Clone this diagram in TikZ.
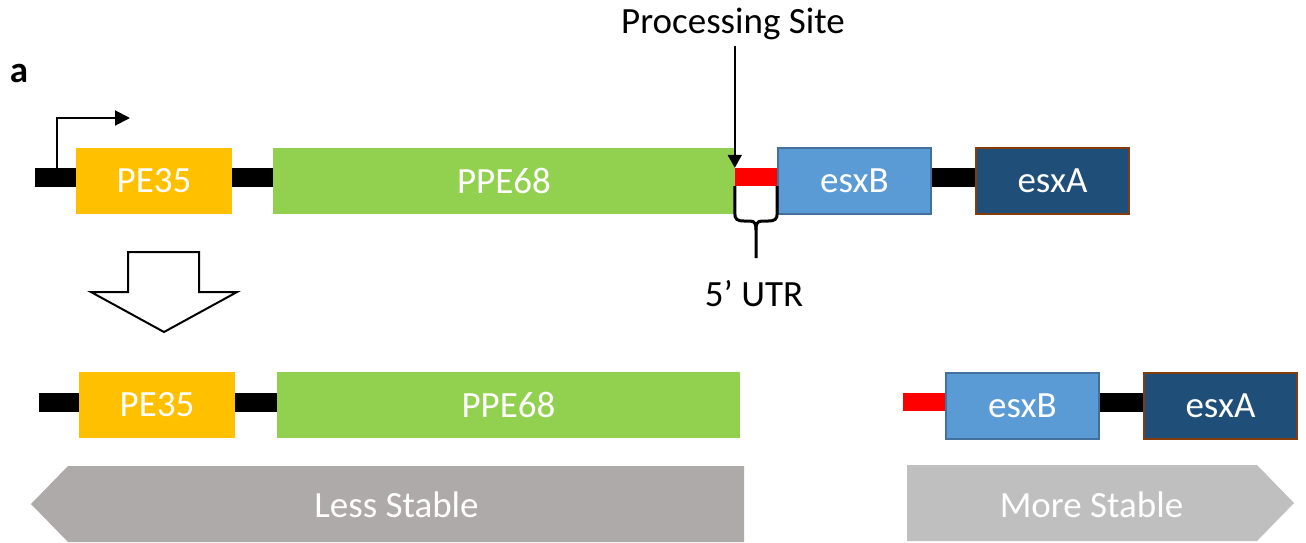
\documentclass[tikz,border=0pt]{standalone}
\usepackage{fontspec}
\setmainfont{Carlito}
\usetikzlibrary{arrows.meta,calc}
\definecolor{peY}{HTML}{FFC000}
\definecolor{ppeG}{HTML}{92D050}
\definecolor{esxBc}{HTML}{5B9BD5}
\definecolor{esxBe}{HTML}{41719C}
\definecolor{esxAc}{HTML}{1F4E79}
\definecolor{esxAe}{HTML}{843C0C}
\definecolor{lessG}{HTML}{AEAAAA}
\definecolor{moreG}{HTML}{BFBFBF}
\definecolor{utrR}{HTML}{FF0000}
\begin{document}
\begin{tikzpicture}[x=1pt,y=-1pt,
  big/.style={font=\fontsize{37}{44}\selectfont},
  gene/.style={rectangle, inner sep=0pt, minimum height=66pt, text=white, big},
  pe/.style={gene, fill=peY},
  ppe/.style={gene, fill=ppeG},
  esxb/.style={gene, fill=esxBc, draw=esxBe, line width=2pt},
  esxa/.style={gene, fill=esxAc, draw=esxAe, line width=2pt},
  utr/.style={rectangle, inner sep=0pt, fill=utrR, minimum width=42pt, minimum height=18pt},
  bar/.style={line width=19pt, black},
  lbl/.style={big, inner sep=0pt, anchor=base},
  thin/.style={line width=2pt, black},
]
\useasboundingbox (0,0) rectangle (1306,542);

% row 1
\coordinate (r1) at (0,177.5);
\coordinate (s1) at (35,177.5);
\node[pe, minimum width=156pt] (pe35a) at (154,181) {PE35};
\node[ppe, minimum width=462pt] (ppe68a) at (504,181) {PPE68};
\node[utr] (utra) at (756,177) {};
\node[esxb, minimum width=153pt] (esxBa) at (854.5,181) {esxB};
\node[esxa, minimum width=153pt] (esxAa) at (1052.5,181) {esxA};
\begin{scope}[on background layer/.style={}]
\end{scope}
\draw[bar] (s1) -- (pe35a.west |- r1);
\draw[bar] (pe35a.east |- r1) -- (ppe68a.west |- r1);
\draw[bar] (esxBa.east |- r1) -- (esxAa.west |- r1);

% promoter
\coordinate (prom) at (57,170);
\coordinate (promtop) at (57,118);
\coordinate (promend) at (130,118);
\draw[thin, -{Triangle[length=15pt,width=15pt]}] (prom) -- (promtop) -- (promend);

% processing site
\node[lbl] (ps) at (733,33) {Processing Site};
\draw[thin, -{Triangle[length=13pt,width=14pt]}] (ps.south -| utra.north west) ++(0,6) -- (utra.north west);

% brace
\draw[line width=3pt, black, line join=round]
  (utra.south west) -- ++(0,27) .. controls +(0,6) and (737,221) .. (744,221) -- (750,221)
  .. controls (755,221) and (756,224) .. (756,230) -- (756,258);
\draw[line width=3pt, black, line join=round]
  (utra.south east) -- ++(0,27) .. controls +(0,6) and (775,221) .. (768,221) -- (762,221)
  .. controls (757,221) and (756,224) .. (756,230);
\node[lbl] (utrlbl) at (754,306) {5’ UTR};

% label a
\node[big, font=\fontsize{37}{44}\selectfont\bfseries, inner sep=0pt, anchor=base] (a) at (19,82) {a};

% down block arrow
\draw[thin, fill=white, line join=miter]
  (128,252) -- (199,252) -- (199,292) -- (237,292) -- (164,332) -- (91,292) -- (128,292) -- cycle;

% row 2
\coordinate (r2) at (0,402);
\coordinate (s2) at (39,402);
\node[pe, minimum width=156pt] (pe35b) at (157,405) {PE35};
\node[ppe, minimum width=463pt] (ppe68b) at (508.5,405) {PPE68};
\node[utr] (utrb) at (924,402) {};
\node[esxb, minimum width=153pt] (esxBb) at (1022.5,406) {esxB};
\node[esxa, minimum width=153pt] (esxAb) at (1220.5,406) {esxA};
\draw[bar] (s2) -- (pe35b.west |- r2);
\draw[bar] (pe35b.east |- r2) -- (ppe68b.west |- r2);
\draw[bar] (esxBb.east |- r2) -- (esxAb.west |- r2);

% stability arrows
\fill[lessG] (68,466) -- (744,466) -- (744,542) -- (68,542) -- (31,504) -- cycle;
\node[lbl, text=white] (less) at (396.5,517) {Less Stable};
\fill[moreG] (907,465) -- (1257,465) -- (1294,503) -- (1257,541) -- (907,541) -- cycle;
\node[lbl, text=white] (more) at (1091.5,517) {More Stable};
\end{tikzpicture}
\end{document}
